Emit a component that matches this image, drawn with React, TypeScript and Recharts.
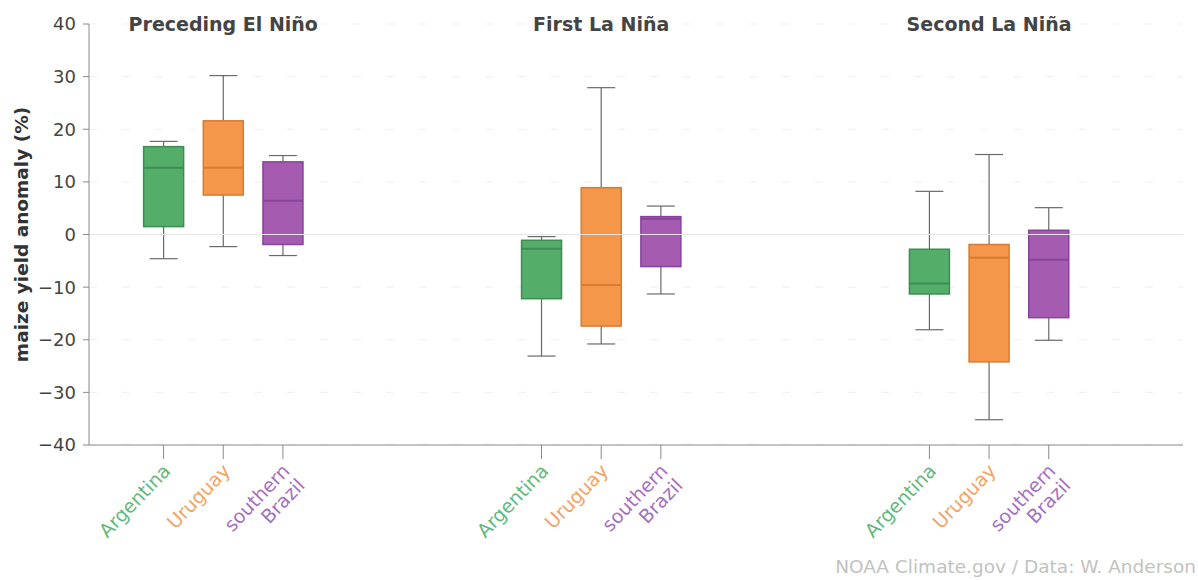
import { Bar, CartesianGrid, ComposedChart, ReferenceLine, XAxis, YAxis } from "recharts";

const periods = ["Preceding El Niño", "First La Niña", "Second La Niña"];
const regions = ["Argentina", "Uruguay", "southern Brazil"];

// values per period, then per region (Argentina, Uruguay, southern Brazil)
const whiskerLow = [
  [-4.6, -2.3, -4.0],
  [-23.1, -20.8, -11.3],
  [-18.1, -35.2, -20.1],
];
const quartileLow = [
  [1.5, 7.5, -1.9],
  [-12.2, -17.4, -6.1],
  [-11.3, -24.2, -15.8],
];
const medians = [
  [12.7, 12.7, 6.4],
  [-2.7, -9.6, 3.0],
  [-9.3, -4.4, -4.8],
];
const quartileHigh = [
  [16.7, 21.6, 13.8],
  [-1.1, 8.9, 3.4],
  [-2.8, -1.9, 0.8],
];
const whiskerHigh = [
  [17.7, 30.2, 15.0],
  [-0.4, 27.9, 5.4],
  [8.2, 15.2, 5.1],
];

const yTicks = [-40, -30, -20, -10, 0, 10, 20, 30, 40];

const FONT = "'DejaVu Sans', Verdana, sans-serif";
const fills = ["#55ad6a", "#f5974a", "#a45bb0"];
const edges = ["#3f8c54", "#d87a30", "#86449a"];
const labelColors = ["#62b97c", "#f4a462", "#a570bd"];
const BOX_W = 40;
const CAP_W = 28;

// empty category slots used to space the groups out
const LEAD = 7;
const WITHIN = 5;
const BETWEEN = [25, 26];
const TRAIL = 13;

type Row = {
  key: string;
  period?: number;
  region?: number;
  range?: [number, number];
  q1?: number;
  median?: number;
  q3?: number;
};

const rows: Row[] = [];
let spacer = 0;
const addSpacers = (n: number) => {
  for (let i = 0; i < n; i++) rows.push({ key: `s${spacer++}` });
};
addSpacers(LEAD);
periods.forEach((_, p) => {
  regions.forEach((_, r) => {
    rows.push({
      key: `p${p}r${r}`,
      period: p,
      region: r,
      range: [whiskerLow[p][r], whiskerHigh[p][r]],
      q1: quartileLow[p][r],
      median: medians[p][r],
      q3: quartileHigh[p][r],
    });
    if (r < regions.length - 1) addSpacers(WITHIN);
  });
  if (p < periods.length - 1) addSpacers(BETWEEN[p]);
});
addSpacers(TRAIL);

const rowByKey: Record<string, Row> = {};
rows.forEach((r) => (rowByKey[r.key] = r));

function BoxShape(props: any) {
  const { x, y, width, height, payload } = props;
  if (!payload || payload.region == null || !payload.range) return <g />;
  const [lo, hi] = payload.range;
  const top = Math.min(y, y + height);
  const h = Math.abs(height);
  const toY = (v: number) => top + ((hi - v) / (hi - lo)) * h;
  const cx = x + width / 2;
  const left = cx - BOX_W / 2;
  const r = payload.region;
  const boxTop = toY(payload.q3);
  const boxBottom = toY(payload.q1);
  const whisker = "#6a6a6a";
  return (
    <g>
      <line x1={cx} x2={cx} y1={toY(hi)} y2={boxTop} stroke={whisker} strokeWidth={1.2} />
      <line x1={cx} x2={cx} y1={boxBottom} y2={toY(lo)} stroke={whisker} strokeWidth={1.2} />
      <line x1={cx - CAP_W / 2} x2={cx + CAP_W / 2} y1={toY(hi)} y2={toY(hi)} stroke={whisker} strokeWidth={1.2} />
      <line x1={cx - CAP_W / 2} x2={cx + CAP_W / 2} y1={toY(lo)} y2={toY(lo)} stroke={whisker} strokeWidth={1.2} />
      <rect
        x={left}
        y={boxTop}
        width={BOX_W}
        height={boxBottom - boxTop}
        fill={fills[r]}
        stroke={edges[r]}
        strokeWidth={1.5}
      />
      <line
        x1={left}
        x2={left + BOX_W}
        y1={toY(payload.median)}
        y2={toY(payload.median)}
        stroke={edges[r]}
        strokeWidth={2}
      />
    </g>
  );
}

function RegionTick(props: any) {
  const { x, y, payload } = props;
  const row = rowByKey[payload.value];
  if (!row || row.region == null) return <g />;
  const lines = regions[row.region].split(" ");
  return (
    <g>
      <line x1={x} x2={x} y1={y} y2={y + 14} stroke="#8a8a8a" />
      <text
        transform={`translate(${x + 8},${y + 27}) rotate(-46)`}
        textAnchor="end"
        fill={labelColors[row.region]}
        fontSize={19}
        fontFamily={FONT}
      >
        {lines.map((t, i) => (
          <tspan key={i} x={0} dy={i === 0 ? 0 : "1.1em"}>
            {t}
          </tspan>
        ))}
      </text>
    </g>
  );
}

const formatY = (v: number) => (v < 0 ? `\u2212${Math.abs(v)}` : `${v}`);

// each period title sits above the middle box of its group
const titleRows = rows.filter((r) => r.region === 1);

export default function App() {
  return (
    <div
      style={{
        position: "absolute",
        left: 0,
        top: 0,
        width: 1198,
        height: 580,
        background: "#fff",
        fontFamily: FONT,
      }}
    >
      <ComposedChart
        width={1198}
        height={580}
        data={rows}
        margin={{ top: 24, right: 15, bottom: 0, left: 0 }}
      >
        <CartesianGrid vertical={false} stroke="#efefef" strokeDasharray="8 25" />
        <ReferenceLine y={0} stroke="#e6e6e6" />
        {titleRows.map((row) => (
          <ReferenceLine
            key={row.key}
            x={row.key}
            strokeOpacity={0}
            label={{
              content: (p: any) => {
                const vb = p.viewBox || { x: 0, y: 24 };
                return (
                  <text
                    x={vb.x}
                    y={vb.y}
                    textAnchor="middle"
                    dominantBaseline="central"
                    fill="#444"
                    fontSize={19}
                    fontWeight="bold"
                    fontFamily={FONT}
                  >
                    {periods[row.period as number]}
                  </text>
                );
              },
            }}
          />
        ))}
        <XAxis
          dataKey="key"
          type="category"
          interval={0}
          height={135}
          tickLine={false}
          tickSize={0}
          tickMargin={0}
          axisLine={{ stroke: "#8a8a8a" }}
          tick={<RegionTick />}
        />
        <YAxis
          type="number"
          domain={[-40, 40]}
          ticks={yTicks}
          width={89}
          tickSize={6}
          tickMargin={7}
          tickFormatter={formatY}
          axisLine={{ stroke: "#8a8a8a" }}
          tickLine={{ stroke: "#8a8a8a" }}
          tick={{ fill: "#444", fontSize: 18, fontFamily: FONT }}
          label={{
            position: "insideLeft",
            content: (p: any) => {
              const vb = p.viewBox || { y: 24, height: 421 };
              return (
                <text
                  transform={`translate(21,${vb.y + vb.height / 2}) rotate(-90)`}
                  textAnchor="middle"
                  dominantBaseline="central"
                  fill="#333"
                  fontSize={18.5}
                  fontWeight="bold"
                  fontFamily={FONT}
                >
                  maize yield anomaly (%)
                </text>
              );
            },
          }}
        />
        <Bar dataKey="range" shape={<BoxShape />} isAnimationActive={false} />
      </ComposedChart>
      <div
        style={{
          position: "absolute",
          right: 2,
          bottom: 3,
          fontSize: 18.5,
          color: "#c2c2c2",
          fontFamily: FONT,
          whiteSpace: "nowrap",
        }}
      >
        NOAA Climate.gov / Data: W. Anderson
      </div>
    </div>
  );
}
